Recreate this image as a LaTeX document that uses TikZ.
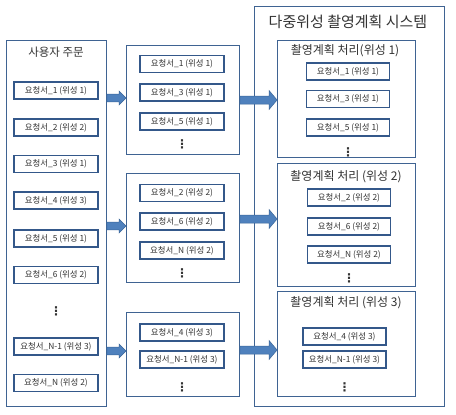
\documentclass[tikz,border=0pt]{standalone}
\usepackage{fontspec}
\usetikzlibrary{calc}
\newfontfamily\kr{Noto Sans CJK KR}
\newfontfamily\dv{DejaVu Sans}
\definecolor{bordc}{HTML}{3F6392}
\definecolor{itemc}{HTML}{34588A}
\definecolor{arrf}{HTML}{4F81BD}
\definecolor{arrd}{HTML}{3A6699}
\definecolor{txtc}{HTML}{333333}
\tikzset{
  bigbox/.style={draw=bordc, line width=1.4pt, fill=white, inner sep=0pt},
  itembox/.style={draw=itemc, line width=1.7pt, fill=white, inner sep=0pt,
     minimum height=17pt, text=txtc, font=\kr\fontsize{8.4}{9}\selectfont},
  ttl/.style={inner sep=0pt, text=txtc, font=\kr\fontsize{12}{14}\selectfont},
  vdot/.style={inner sep=0pt, text=txtc, font=\dv\bfseries\fontsize{12}{13}\selectfont},
  blk/.style={fill=arrf, draw=arrd, line width=0.5pt}
}
% #1 from node anchor, #2 to node anchor, #3 y, #4 shaft half, #5 head half, #6 head length
\newcommand\blkarrow[6]{%
  \path (#1 |- 0,#3) coordinate (ba) (#2 |- 0,#3) coordinate (bb);
  \draw[blk] ($(ba)+(0,#4)$) -- ($(bb)+(-#6,#4)$) -- ($(bb)+(-#6,#5)$) -- (bb)
     -- ($(bb)+(-#6,-#5)$) -- ($(bb)+(-#6,-#4)$) -- ($(ba)+(0,-#4)$) -- cycle;}
\begin{document}
\begin{tikzpicture}[x=1pt,y=-1pt]
\useasboundingbox (0,0) rectangle (456,415);
\fill[white] (0,0) rectangle (456,415);

% ---------------- left column
\node[bigbox, minimum width=99.5pt, minimum height=365.5pt] (L) at (56.5,223.5) {};
\node[ttl, font=\kr\fontsize{11.5}{13}\selectfont] (Lt) at (56,52) {사용자 주문};
\begin{scope}[every node/.append style={itembox, minimum width=84.5pt}]
\node (L1) at (56,90.5) {요청서\_1 (위성 1)};
\node (L2) at (56,127.5) {요청서\_2 (위성 2)};
\node (L3) at (56,164) {요청서\_3 (위성 1)};
\node (L4) at (56,200.5) {요청서\_4 (위성 3)};
\node (L5) at (56,238.5) {요청서\_5 (위성 1)};
\node (L6) at (56,275) {요청서\_6 (위성 2)};
\node (L7) at (56,346.5) {요청서\_N-1 (위성 3)};
\node (L8) at (56,383) {요청서\_N (위성 2)};
\end{scope}
\node[vdot] (Ld) at (56,311) {⋮};

% ---------------- middle column
\node[bigbox, minimum width=112.5pt, minimum height=108.5pt] (M1) at (183,100) {};
\node[bigbox, minimum width=112.5pt, minimum height=108.5pt] (M2) at (183,228) {};
\node[bigbox, minimum width=112.5pt, minimum height=83.5pt] (M3) at (183,354.5) {};
\begin{scope}[every node/.append style={itembox, minimum width=84.5pt}]
\node (M11) at (182,64) {요청서\_1 (위성 1)};
\node (M12) at (182,92.5) {요청서\_3 (위성 1)};
\node (M13) at (182,121.5) {요청서\_5 (위성 1)};
\node (M21) at (182,193) {요청서\_2 (위성 2)};
\node (M22) at (182,221.5) {요청서\_6 (위성 2)};
\node (M23) at (182,250.5) {요청서\_N (위성 2)};
\node (M31) at (182,332.5) {요청서\_4 (위성 3)};
\node (M32) at (182,359.5) {요청서\_N-1 (위성 3)};
\end{scope}
\node[vdot] (M1d) at (182,144) {⋮};
\node[vdot] (M2d) at (182,273) {⋮};
\node[vdot] (M3d) at (182,387) {⋮};

% ---------------- right column
\node[bigbox, minimum width=189.5pt, minimum height=399.5pt] (S) at (349.5,206.5) {};
\node[ttl, font=\kr\fontsize{15}{17}\selectfont] (St) at (348,22) {다중위성 촬영계획 시스템};
\node[bigbox, minimum width=137.5pt, minimum height=116.5pt] (P1) at (346.5,99) {};
\node[bigbox, minimum width=137.5pt, minimum height=122.5pt] (P2) at (346.5,225) {};
\node[bigbox, minimum width=137.5pt, minimum height=104.5pt] (P3) at (346.5,344) {};
\node[ttl] (P1t) at (345,51) {촬영계획 처리(위성 1)};
\node[ttl] (P2t) at (346,177) {촬영계획 처리 (위성 2)};
\node[ttl] (P3t) at (346,303) {촬영계획 처리 (위성 3)};
\begin{scope}[every node/.append style={itembox, minimum width=83pt}]
\node (P11) at (348,71.5) {요청서\_1 (위성 1)};
\node (P12) at (348,99) {요청서\_3 (위성 1)};
\node (P13) at (348,127.5) {요청서\_5 (위성 1)};
\node (P21) at (349,197.5) {요청서\_2 (위성 2)};
\node (P22) at (349,226.5) {요청서\_6 (위성 2)};
\node (P23) at (349,254.5) {요청서\_N (위성 2)};
\node (P31) at (344.5,336.5) {요청서\_4 (위성 3)};
\node (P32) at (344.5,359.5) {요청서\_N-1 (위성 3)};
\end{scope}
\node[vdot] (P1d) at (348,152) {⋮};
\node[vdot] (P2d) at (349,278) {⋮};
\node[vdot] (P3d) at (344.5,387) {⋮};

% ---------------- block arrows
\blkarrow{L.east}{M1.west}{98}{3.8}{7}{7}
\blkarrow{L.east}{M2.west}{226}{3.8}{7}{7}
\blkarrow{L.east}{M3.west}{351}{3.8}{7}{7}
\blkarrow{M1.east}{P1.west}{100}{4}{9.5}{8}
\blkarrow{M2.east}{P2.west}{219}{4}{9.5}{8}
\blkarrow{M3.east}{P3.west}{350}{4}{9.5}{8}
\end{tikzpicture}
\end{document}
